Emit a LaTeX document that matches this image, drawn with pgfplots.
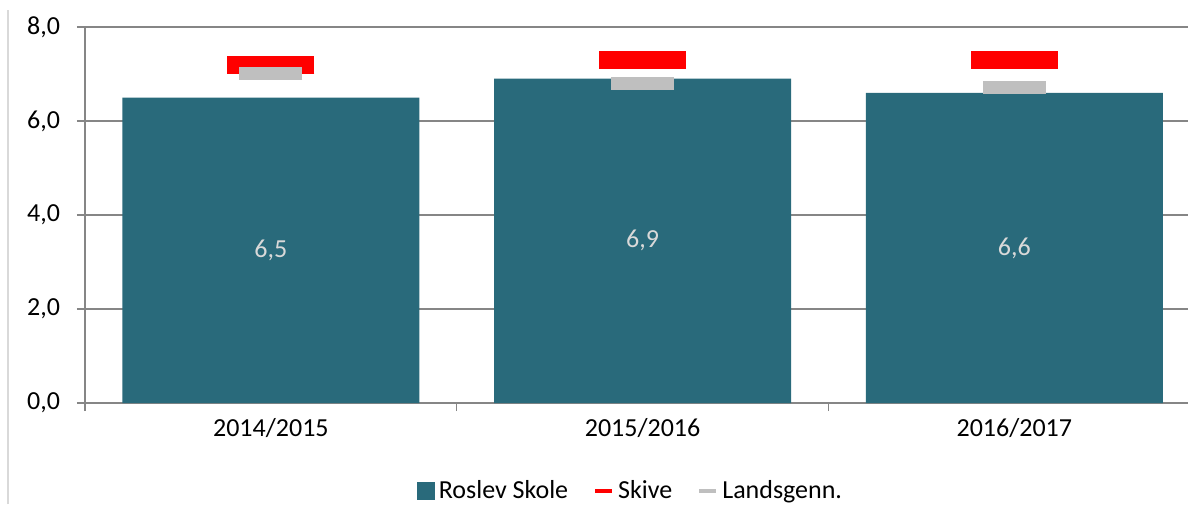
\documentclass[border=0pt]{standalone}
\usepackage{pgfplots}
\pgfplotsset{compat=1.18}
\usepackage{fontspec}
\setmainfont{Carlito}
\definecolor{barteal}{RGB}{41,106,123}
\definecolor{skivered}{RGB}{255,0,0}
\definecolor{landgray}{RGB}{191,191,191}
\definecolor{axisgray}{RGB}{134,134,134}
\definecolor{labelgray}{RGB}{217,217,217}
\begin{document}
\begin{tikzpicture}
\useasboundingbox (0,0) rectangle (594pt,252pt);
\draw[color=gray!30, line width=0.8pt] (4pt,0) -- (4pt,247pt);
\begin{axis}[
  at={(42.5pt,50.5pt)}, anchor=south west,
  scale only axis, width=557.6pt, height=188pt,
  xmin=-0.5, xmax=2.5, ymin=0, ymax=8,
  axis x line*=bottom, axis y line*=left,
  axis line style={axisgray, line width=0.75pt, -},
  ytick={0,2,...,8}, ymajorgrids,
  grid style={axisgray, line width=0.75pt},
  xtick={0,1,2}, xticklabels={2014/2015,2015/2016,2016/2017},
  minor xtick={-0.5,0.5,1.5,2.5},
  major x tick style={draw=none},
  tick style={axisgray, line width=0.75pt},
  tick align=outside, major tick length=4pt, minor tick length=4pt,
  font=\fontsize{13}{15}\selectfont,
  /pgf/number format/assume math mode=true,
  y tick label style={xshift=-5pt, /pgf/number format/.cd, use comma, fixed, fixed zerofill, precision=1},
  legend style={at={(0.49,-0.234)}, anchor=center, draw=none, fill=none,
    legend columns=-1, font=\fontsize{13}{15}\selectfont,
    /tikz/every even column/.append style={column sep=10.5pt}},
]
  \addplot[ybar, bar width=148.5pt, fill=barteal, draw=none,
    nodes near coords,
    visualization depends on={y \as \rawy},
    every node near coord/.append style={anchor=center, text=labelgray,
      yshift=-\rawy*11.75pt,
      /pgf/number format/.cd, use comma, fixed, fixed zerofill, precision=1},
    legend image code/.code={\fill[barteal] (0pt,-4.5pt) rectangle (9pt,4.5pt);}
  ] coordinates {(0,6.5) (1,6.9) (2,6.6)};
  \addlegendentry{Roslev Skole}
  \addplot[only marks, mark=-, mark size=21.75pt, color=skivered,
    mark options={line width=9pt, draw=skivered},
    legend image code/.code={\draw[skivered, line width=2pt] (0pt,0pt) -- (8.5pt,0pt);}
  ] coordinates {(0,7.19) (1,7.30) (2,7.30)};
  \addlegendentry{Skive}
  \addplot[only marks, mark=-, mark size=15.75pt, color=landgray,
    mark options={line width=6.5pt, draw=landgray},
    legend image code/.code={\draw[landgray, line width=2pt] (0pt,0pt) -- (8.5pt,0pt);}
  ] coordinates {(0,7.01) (1,6.80) (2,6.72)};
  \addlegendentry{Landsgenn.}
\end{axis}
\end{tikzpicture}
\end{document}
